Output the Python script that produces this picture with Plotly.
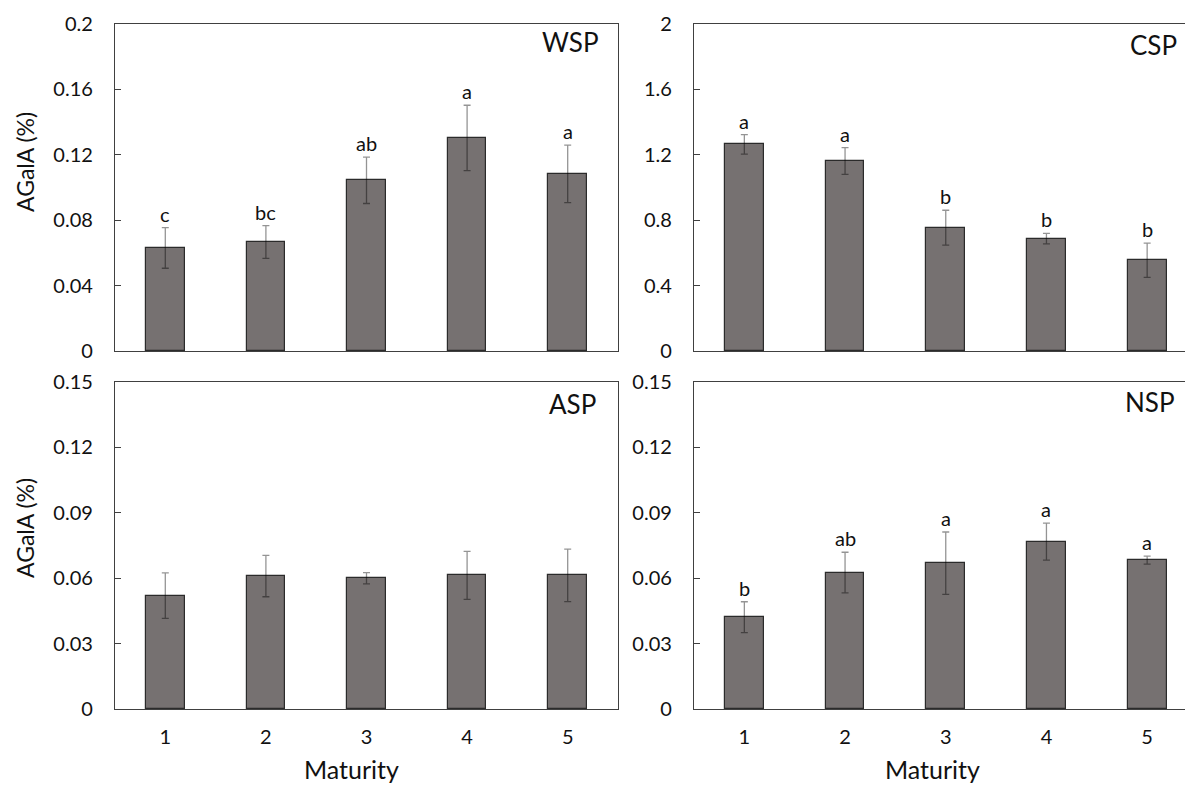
import plotly.graph_objects as go

# ---- data ----
maturity = [1, 2, 3, 4, 5]
wsp_mean = [0.0630, 0.0667, 0.1044, 0.1303, 0.1083]
wsp_err = [0.0124, 0.0100, 0.0142, 0.0200, 0.0176]
wsp_letters = ["c", "bc", "ab", "a", "a"]

csp_mean = [1.264, 1.162, 0.754, 0.687, 0.555]
csp_err = [0.060, 0.082, 0.107, 0.032, 0.105]
csp_letters = ["a", "a", "b", "b", "b"]

asp_mean = [0.0520, 0.0610, 0.0600, 0.0613, 0.0613]
asp_err = [0.0104, 0.0095, 0.0026, 0.0110, 0.0120]
asp_letters = ["", "", "", "", ""]

nsp_mean = [0.0421, 0.0626, 0.0669, 0.0768, 0.0683]
nsp_err = [0.0071, 0.0093, 0.0143, 0.0085, 0.0018]
nsp_letters = ["b", "ab", "a", "a", "a"]

y_ticks = {
    "WSP": [0, 0.04, 0.08, 0.12, 0.16, 0.2],
    "CSP": [0, 0.4, 0.8, 1.2, 1.6, 2],
    "ASP": [0, 0.03, 0.06, 0.09, 0.12, 0.15],
    "NSP": [0, 0.03, 0.06, 0.09, 0.12, 0.15],
}
y_ticktext = {
    "WSP": ["0", "0.04", "0.08", "0.12", "0.16", "0.2"],
    "CSP": ["0", "0.4", "0.8", "1.2", "1.6", "2"],
    "ASP": ["0", "0.03", "0.06", "0.09", "0.12", "0.15"],
    "NSP": ["0", "0.03", "0.06", "0.09", "0.12", "0.15"],
}
x_ticktext = ["1", "2", "3", "4", "5"]
y_title = "AGalA (%)"
x_title = "Maturity"

W, H = 1185, 785
FONT = "Lato"
BAR_FILL = "#767171"
BAR_LINE = "#2b2b2b"
AXIS_COLOR = "#404040"
ERR_COLOR = "rgba(0,0,0,0.42)"

def px(x):
    return x / W

def py(y):
    return 1 - y / H

left_dom = [px(115), px(618)]
right_dom = [px(694), 1.0]
top_dom = [py(351), py(24)]
bot_dom = [py(709), py(382)]

# right panels are cropped at the image edge
right_range_end = 5.5 - (1197.5 - 1185) / 100.7

panels = [
    ("WSP", wsp_mean, wsp_err, wsp_letters, left_dom, top_dom, [0.5, 5.5], True, False),
    ("CSP", csp_mean, csp_err, csp_letters, right_dom, top_dom, [0.5, right_range_end], False, False),
    ("ASP", asp_mean, asp_err, asp_letters, left_dom, bot_dom, [0.5, 5.5], True, True),
    ("NSP", nsp_mean, nsp_err, nsp_letters, right_dom, bot_dom, [0.5, right_range_end], False, True),
]

fig = go.Figure()
annotations = []
layout = {}

for i, (name, mean, err, letters, xd, yd, xr, is_left, show_x) in enumerate(panels, start=1):
    xa = "x" if i == 1 else f"x{i}"
    ya = "y" if i == 1 else f"y{i}"
    fig.add_trace(go.Bar(
        x=maturity, y=mean, width=0.385,
        marker=dict(color=BAR_FILL, line=dict(color=BAR_LINE, width=1.2)),
        error_y=dict(type="data", array=err, visible=True, color=ERR_COLOR,
                     thickness=1.3, width=3.5),
        xaxis=xa, yaxis=ya, showlegend=False, hoverinfo="skip",
    ))
    ticks = y_ticks[name]
    layout[f"xaxis{'' if i == 1 else i}"] = dict(
        domain=xd, anchor=ya, range=xr, showline=True, mirror=True, automargin=False,
        linecolor=AXIS_COLOR, linewidth=1.2, ticks="", showgrid=False, zeroline=False,
        tickvals=maturity if show_x else [], ticktext=x_ticktext if show_x else [],
        showticklabels=show_x, tickfont=dict(family=FONT, size=20, color="#111"),
        ticklabelstandoff=10,
    )
    layout[f"yaxis{'' if i == 1 else i}"] = dict(
        domain=yd, anchor=xa, range=[0, ticks[-1]], showline=True, mirror=is_left,
        automargin=False,
        linecolor=AXIS_COLOR, linewidth=1.2, ticks="inside", ticklen=6, tickcolor=AXIS_COLOR,
        tickwidth=1, showgrid=False, zeroline=False,
        tickvals=ticks, ticktext=y_ticktext[name],
        tickfont=dict(family=FONT, size=20, color="#111"),
        ticklabelstandoff=17,
    )
    for xv, m, e, lab in zip(maturity, mean, err, letters):
        if lab:
            annotations.append(dict(
                x=xv, y=m + e, xref=xa, yref=ya, text=lab, showarrow=False,
                yanchor="middle", yshift=14, font=dict(family=FONT, size=20, color="#111"),
            ))

# panel labels
label_pos = {"WSP": (601, 42.5), "CSP": (1179, 45), "ASP": (598, 404), "NSP": (1177, 402)}
for name, (lx, ly) in label_pos.items():
    annotations.append(dict(
        x=px(lx), y=py(ly), xref="paper", yref="paper", text=name, showarrow=False,
        xanchor="right", yanchor="middle", font=dict(family=FONT, size=26, color="#111"),
    ))

# y titles
for cy in (162, 528):
    annotations.append(dict(
        x=px(25), y=py(cy), xref="paper", yref="paper", text=y_title, showarrow=False,
        textangle=-90, xanchor="center", yanchor="middle",
        font=dict(family=FONT, size=23, color="#111"),
    ))

# x titles
for cx in (351, 932):
    annotations.append(dict(
        x=px(cx), y=py(769), xref="paper", yref="paper", text=x_title, showarrow=False,
        xanchor="center", yanchor="middle", font=dict(family=FONT, size=25, color="#111"),
    ))

fig.update_layout(
    width=W, height=H, margin=dict(l=0, r=0, t=0, b=0, autoexpand=False),
    paper_bgcolor="white", plot_bgcolor="white",
    annotations=annotations, bargap=0, **layout,
)

fig.write_html("out.html")
